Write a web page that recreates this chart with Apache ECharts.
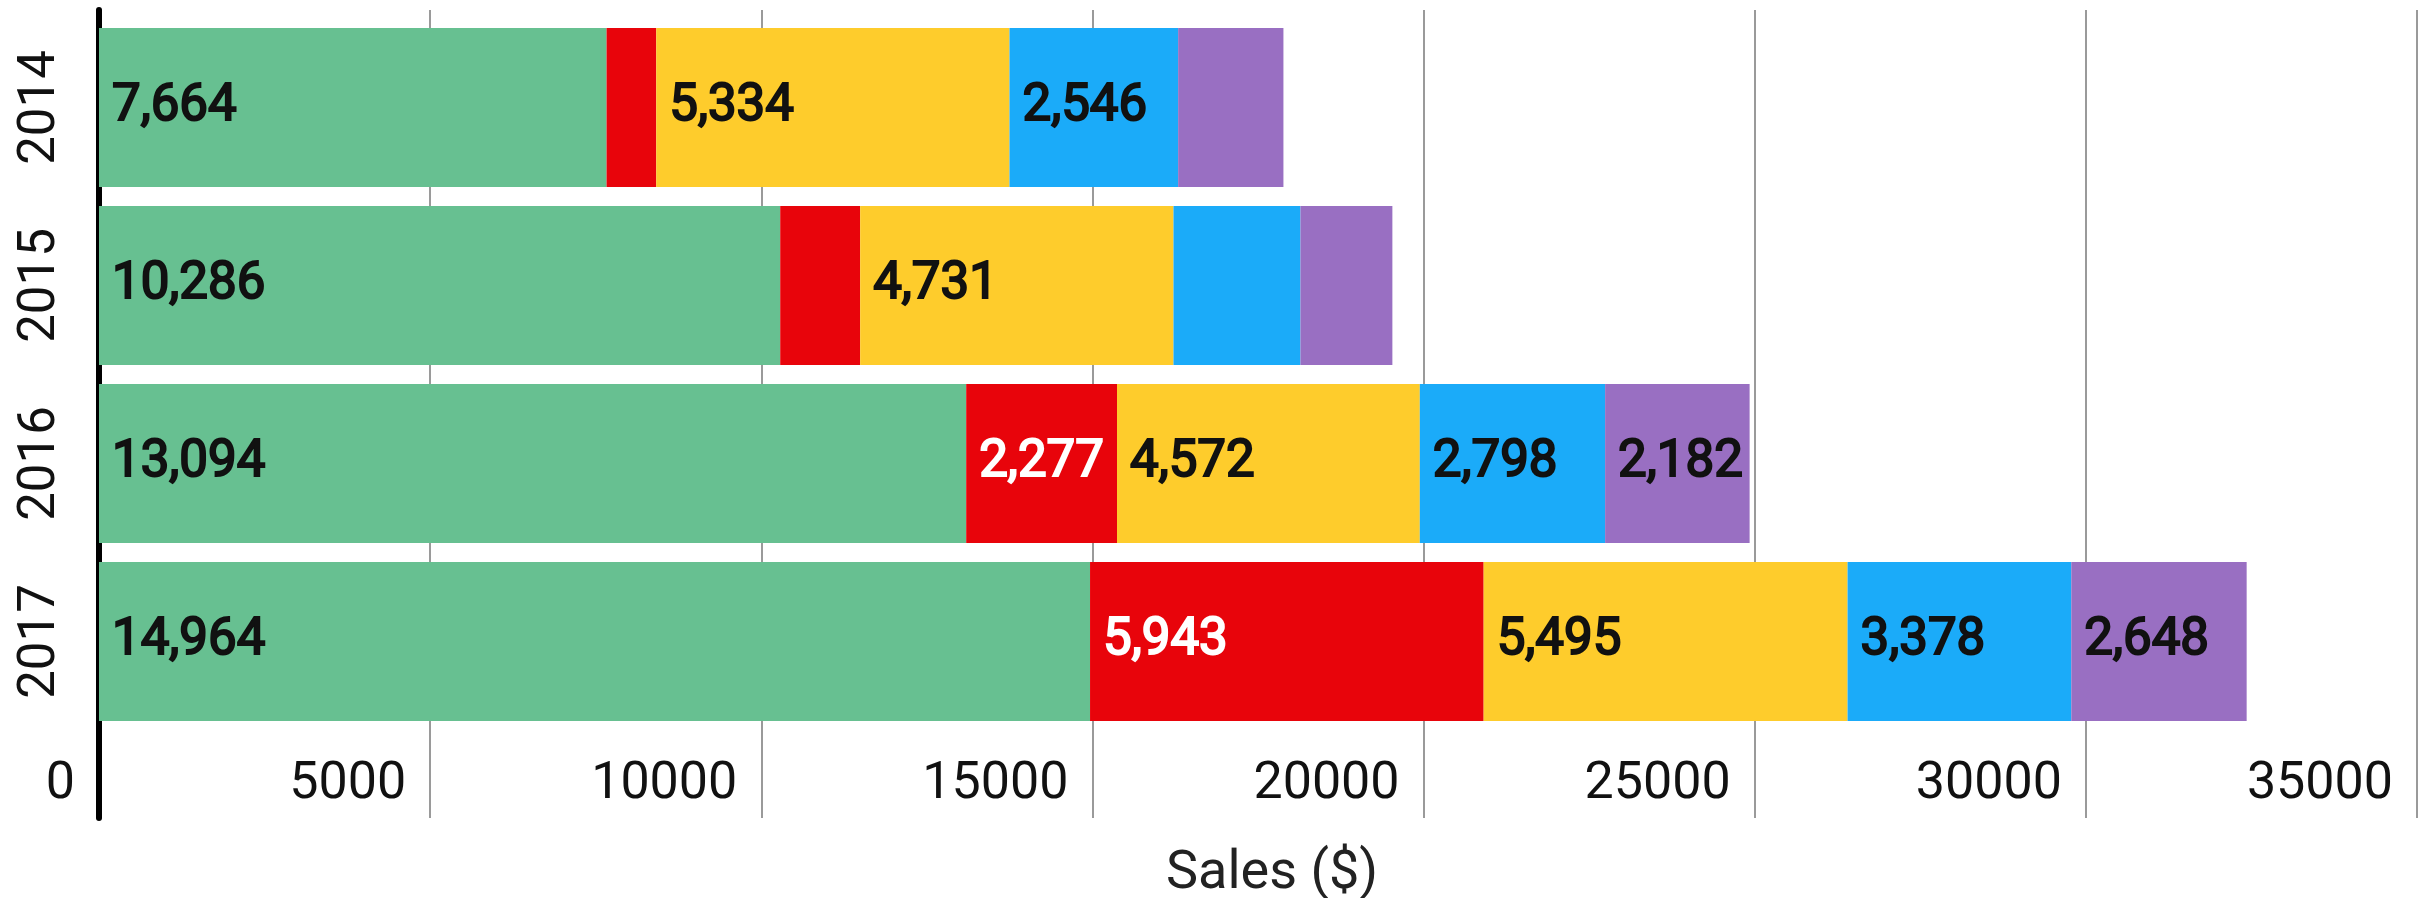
<!DOCTYPE html>
<html><head><meta charset="utf-8">
<script src="https://cdn.jsdelivr.net/npm/echarts@6/dist/echarts.min.js"></script>
<style>html,body{margin:0;padding:0;background:#fff}#c{width:2432px;height:898px}</style>
</head><body><div id="c"></div>
<script>
// ---- data ----
const years = ['2014', '2015', '2016', '2017'];
const seriesNames = ['Series 1', 'Series 2', 'Series 3', 'Series 4', 'Series 5'];
const green  = [7664, 10286, 13094, 14964];
const red    = [750, 1207, 2277, 5943];
const yellow = [5334, 4731, 4572, 5495];
const blue   = [2546, 1917, 2798, 3378];
const purple = [1590, 1388, 2182, 2648];
const xMin = 0, xMax = 35000, xStep = 5000;
const axisTitle = 'Sales ($)';
const labelMin = 2000; // segments narrower than this carry no label

const colors = ['#67c091', '#e8040b', '#fecc2c', '#1babf9', '#996fc2'];
const labelColors = ['#111', '#fff', '#111', '#111', '#111'];
const values = [green, red, yellow, blue, purple];
const FONT = 'Roboto, "Noto Sans", sans-serif';

const chart = echarts.init(document.getElementById('c'), null, {renderer: 'canvas'});
const L = 99, R = 15;
chart.setOption({
  animation: false,
  backgroundColor: '#fff',
  grid: [
    {left: L, right: R, top: 10, bottom: 80, containLabel: false, outerBoundsMode: 'none'},
    {left: L, right: R, top: 18.5, height: 712, containLabel: false, outerBoundsMode: 'none'}
  ],
  xAxis: [
    {
      gridIndex: 0, type: 'value', min: xMin, max: xMax, interval: xStep,
      position: 'bottom',
      axisLine: {show: false}, axisTick: {show: false},
      splitLine: {show: true, lineStyle: {color: '#9a9a9a', width: 2}},
      axisLabel: {
        inside: false, margin: -33, align: 'right', verticalAlign: 'middle',
        padding: [0, 24, 0, 0], lineHeight: 52,
        fontFamily: FONT, fontSize: 52, color: '#111',
        showMinLabel: true, showMaxLabel: true,
        formatter: v => String(v)
      },
      name: axisTitle, nameLocation: 'middle', nameGap: 29, nameMoveOverlap: false,
      nameTextStyle: {fontFamily: FONT, fontSize: 54, color: '#222', padding: [0, 0, 0, 28]}
    },
    {gridIndex: 1, type: 'value', min: xMin, max: xMax, interval: xStep, show: false}
  ],
  yAxis: [
    {
      gridIndex: 0, type: 'value', min: 0, max: 1, offset: 3,
      axisLine: {show: true, lineStyle: {color: '#000', width: 6}},
      axisTick: {show: false}, axisLabel: {show: false}, splitLine: {show: false}
    },
    {
      gridIndex: 1, type: 'category', data: years, inverse: true,
      axisLine: {show: false}, axisTick: {show: false}, splitLine: {show: false},
      axisLabel: {rotate: 90, margin: 32, fontFamily: FONT, fontSize: 51, color: '#111'}
    }
  ],
  series: values.map((arr, i) => ({
    name: seriesNames[i], type: 'bar', stack: 'total',
    xAxisIndex: 1, yAxisIndex: 1,
    barCategoryGap: '10.7%',
    data: arr,
    itemStyle: {color: colors[i]},
    label: {
      show: true, position: 'insideLeft', distance: 13,
      fontFamily: FONT, fontSize: 51, fontWeight: 'normal', color: labelColors[i],
      textBorderColor: labelColors[i], textBorderWidth: 2,
      formatter: p => p.value >= labelMin ? p.value.toLocaleString('en-US') : ''
    }
  }))
});
</script></body></html>
